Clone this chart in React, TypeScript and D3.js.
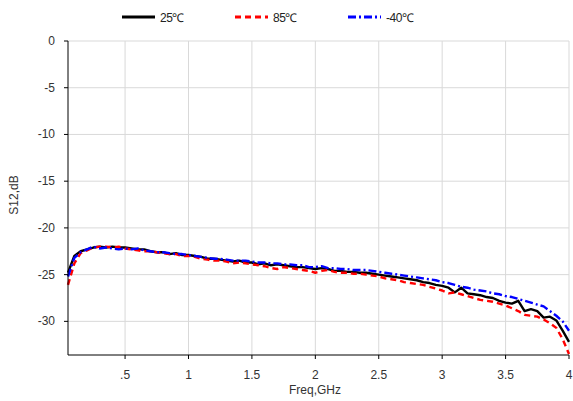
import React from "react";
import * as d3 from "d3";

const freqs: number[] = d3.range(1, 81).map((i) => +(i * 0.05).toFixed(2));

const s25: number[] = [
  -24.8, -23.0, -22.5, -22.3, -22.1, -22.0, -22.1, -22.0, -22.1, -22.1,
  -22.2, -22.3, -22.3, -22.5, -22.6, -22.6, -22.8, -22.7, -22.9, -22.9,
  -23.0, -23.1, -23.3, -23.3, -23.4, -23.5, -23.6, -23.5, -23.7, -23.7,
  -23.9, -23.8, -24.0, -23.9, -24.0, -24.1, -24.2, -24.2, -24.3, -24.4,
  -24.3, -24.4, -24.6, -24.6, -24.7, -24.7, -24.8, -24.8, -24.9, -25.0,
  -25.1, -25.2, -25.3, -25.4, -25.5, -25.6, -25.8, -25.9, -26.1, -26.2,
  -26.4, -26.9, -26.4, -27.0, -27.1, -27.2, -27.4, -27.5, -27.8, -28.0,
  -28.1, -27.8, -28.9, -28.7, -28.9, -29.6, -29.5, -29.9, -31.0, -32.2,
];

const s85: number[] = [
  -26.1, -23.8, -22.7, -22.4, -22.1, -22.0, -22.0, -22.1, -22.0, -22.2,
  -22.3, -22.4, -22.5, -22.5, -22.6, -22.7, -22.8, -22.8, -23.0, -23.0,
  -23.1, -23.3, -23.4, -23.5, -23.5, -23.6, -23.8, -23.7, -23.8, -23.9,
  -24.0, -24.1, -24.3, -24.4, -24.2, -24.3, -24.4, -24.5, -24.6, -24.8,
  -24.6, -24.5, -24.7, -24.8, -24.8, -24.9, -24.9, -25.0, -25.1, -25.2,
  -25.4, -25.5, -25.6, -25.8, -25.9, -26.0, -26.1, -26.3, -26.5, -26.7,
  -27.0, -26.9, -27.1, -27.3, -27.5, -27.7, -27.8, -27.9, -28.1, -28.3,
  -28.6, -28.9, -29.3, -29.4, -29.5, -29.8, -30.2, -30.7, -31.9, -33.5,
];

const sm40: number[] = [
  -25.2, -23.2, -22.6, -22.3, -22.0, -22.2, -22.1, -22.2, -22.3, -22.2,
  -22.3, -22.2, -22.4, -22.5, -22.6, -22.6, -22.7, -22.8, -22.8, -22.9,
  -23.0, -23.1, -23.2, -23.3, -23.3, -23.4, -23.5, -23.5, -23.5, -23.6,
  -23.7, -23.7, -23.8, -23.8, -23.9, -23.9, -24.0, -24.0, -24.2, -24.2,
  -24.1, -24.3, -24.3, -24.4, -24.4, -24.5, -24.5, -24.5, -24.6, -24.7,
  -24.8, -24.9, -25.0, -25.1, -25.2, -25.3, -25.4, -25.5, -25.6, -25.8,
  -25.9, -26.1, -26.3, -26.4, -26.6, -26.7, -26.8, -27.0, -27.1, -27.3,
  -27.4, -27.6, -27.8, -28.0, -28.2, -28.4, -28.9, -29.4, -30.0, -31.0,
];

const xTicks: number[] = [0.5, 1, 1.5, 2, 2.5, 3, 3.5, 4];
const xTickLabels: string[] = [".5", "1", "1.5", "2", "2.5", "3", "3.5", "4"];
const yTicks: number[] = [0, -5, -10, -15, -20, -25, -30];

const seriesNames: string[] = ["25℃", "85℃", "-40℃"];
const seriesColors: string[] = ["#000000", "#ff0000", "#0000ff"];
const seriesDash: string[] = ["none", "6,4", "8,3,2,3"];

const W = 573;
const H = 401;
const M = { left: 68, right: 569, top: 41, bottom: 355 };
const FONT = "'Liberation Sans', Arial, sans-serif";

export default function App() {
  const x = d3.scaleLinear().domain([0.05, 4]).range([M.left, M.right]);
  const y = d3.scaleLinear().domain([-33.6, 0]).range([M.bottom, M.top]);
  const line = d3
    .line<number>()
    .x((_, i) => x(freqs[i]))
    .y((d) => y(d));
  const allSeries = [s25, s85, sm40];
  const legendX = [122, 235, 348];

  return (
    <svg
      width={W}
      height={H}
      style={{ position: "absolute", left: 0, top: 0, background: "#fff" }}
      fontFamily={FONT}
    >
      {/* grid */}
      {xTicks.map((t) => (
        <line key={"gx" + t} x1={x(t)} x2={x(t)} y1={M.top} y2={M.bottom} stroke="#d9d9d9" strokeWidth={1} />
      ))}
      {yTicks.map((t) => (
        <line key={"gy" + t} x1={M.left} x2={M.right} y1={y(t)} y2={y(t)} stroke="#d9d9d9" strokeWidth={1} />
      ))}
      {/* series */}
      {allSeries.map((s, i) => (
        <path
          key={"s" + i}
          d={line(s) || ""}
          fill="none"
          stroke={seriesColors[i]}
          strokeWidth={2.4}
          strokeDasharray={seriesDash[i]}
          strokeLinejoin="round"
        />
      ))}
      {/* axes */}
      <line x1={M.left} x2={M.left} y1={M.top} y2={M.bottom} stroke="#000" strokeWidth={1} />
      <line x1={M.left} x2={M.right} y1={M.bottom} y2={M.bottom} stroke="#000" strokeWidth={1} />
      {xTicks.map((t, i) => (
        <g key={"xt" + t}>
          <line x1={x(t)} x2={x(t)} y1={M.bottom} y2={M.bottom + 4} stroke="#000" />
          <text x={x(t)} y={379} textAnchor="middle" fontSize={12} fill="#333">
            {xTickLabels[i]}
          </text>
        </g>
      ))}
      {yTicks.map((t) => (
        <g key={"yt" + t}>
          <line x1={M.left - 4} x2={M.left} y1={y(t)} y2={y(t)} stroke="#000" />
          <text x={55} y={y(t) + 4} textAnchor="end" fontSize={12} fill="#333">
            {t}
          </text>
        </g>
      ))}
      <text x={315} y={394} textAnchor="middle" fontSize={12} fill="#333">
        Freq,GHz
      </text>
      <text
        transform="translate(18,195) rotate(-90)"
        textAnchor="middle"
        fontSize={12}
        fill="#333"
      >
        S12,dB
      </text>
      {/* legend */}
      {seriesNames.map((n, i) => (
        <g key={"lg" + i}>
          <line
            x1={legendX[i]}
            x2={legendX[i] + 33}
            y1={17}
            y2={17}
            stroke={seriesColors[i]}
            strokeWidth={3}
            strokeDasharray={seriesDash[i]}
          />
          <text x={legendX[i] + 38} y={21.5} fontSize={12} fill="#222" letterSpacing={-0.5}>
            {n}
          </text>
        </g>
      ))}
    </svg>
  );
}
